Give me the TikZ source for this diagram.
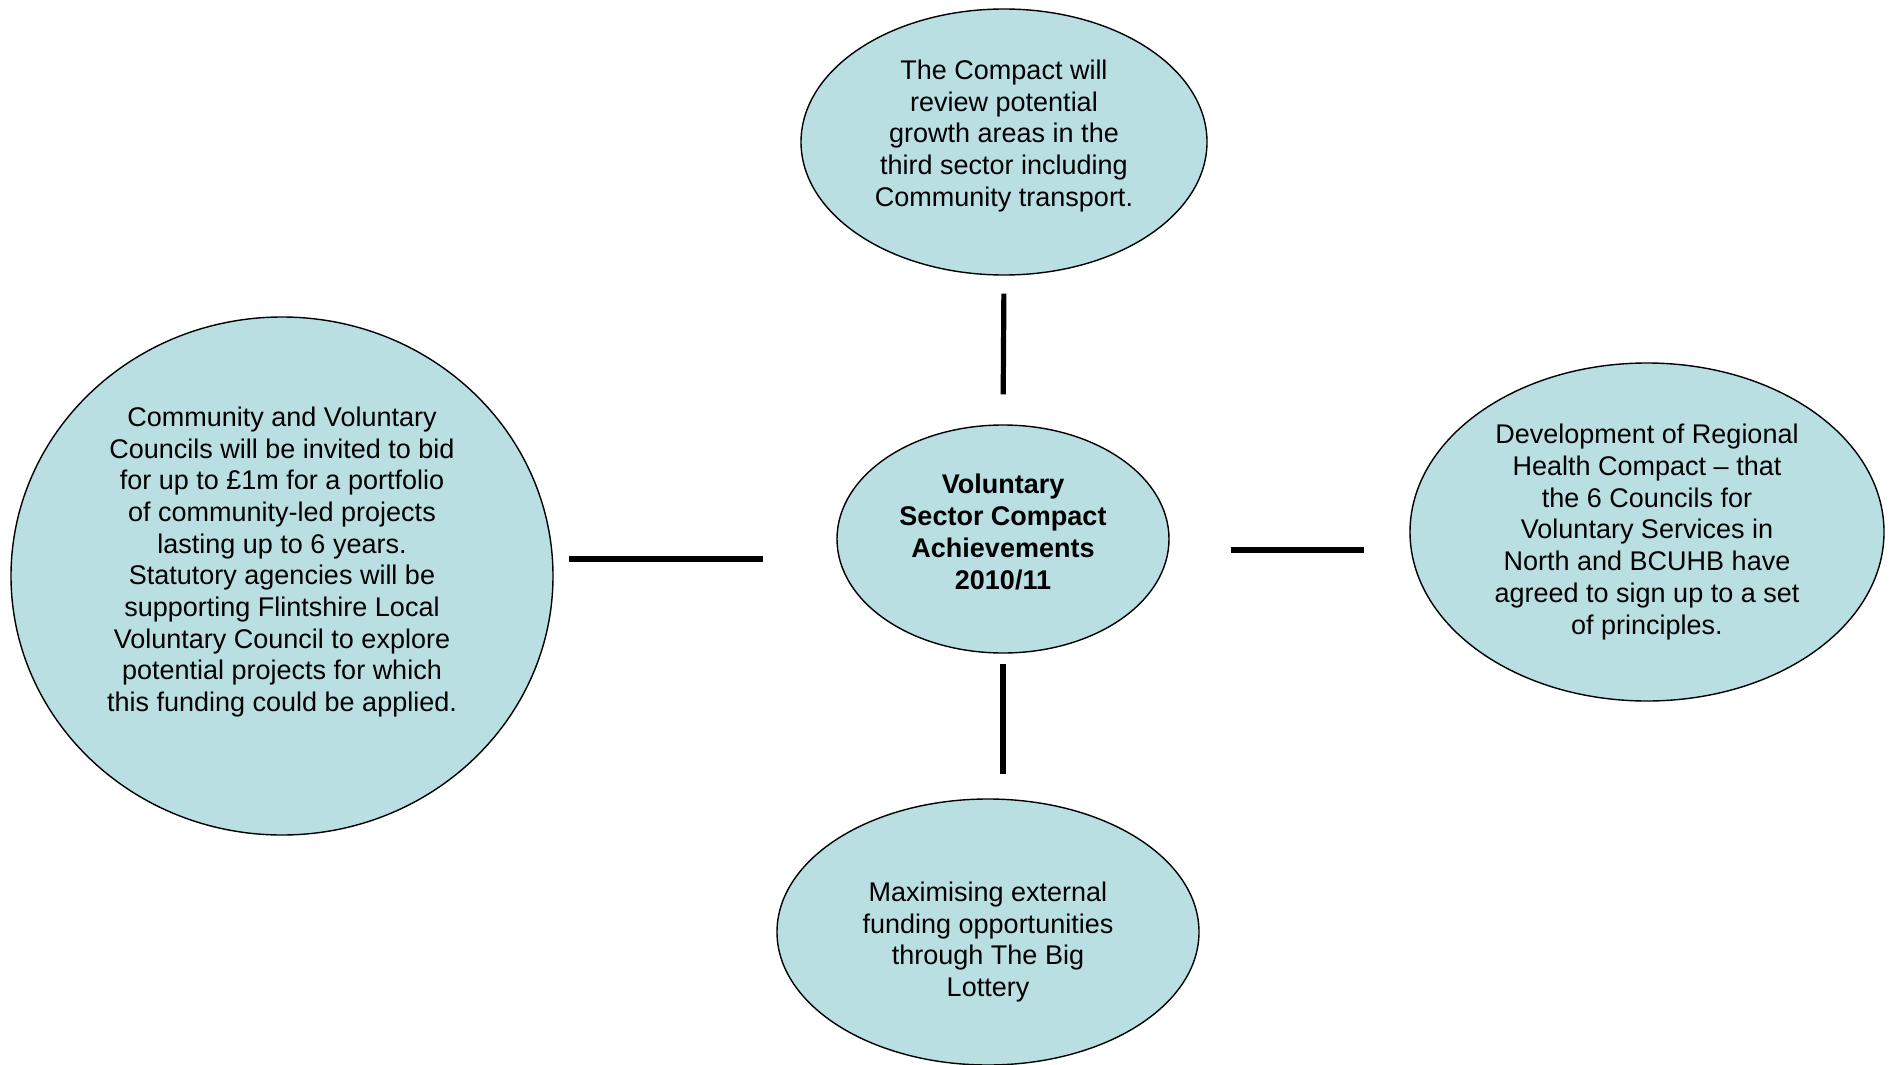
\documentclass[tikz,border=0pt]{standalone}
\usepackage{fontspec}
\setmainfont{Liberation Sans}
\usetikzlibrary{shapes.geometric}
\definecolor{bubblefill}{RGB}{185,223,227}
\begin{document}
\begin{tikzpicture}[x=0.5pt,y=-0.5pt,
  bubble/.style={ellipse,draw=black,line width=0.7pt,fill=bubblefill,inner sep=0pt},
  txt/.style={align=center,inner sep=0pt,font=\fontsize{13.5pt}{15.85pt}\selectfont},
  link/.style={draw=black,line width=2.6pt}]
\useasboundingbox (0,0) rectangle (1890,1065);

% ellipses
\node[bubble,minimum width=203pt,minimum height=133pt] (top) at (1004,142) {};
\node[bubble,minimum width=166pt,minimum height=114pt] (center) at (1003,539) {};
\node[bubble,minimum width=271pt,minimum height=259pt] (left) at (282,576) {};
\node[bubble,minimum width=237pt,minimum height=169pt] (right) at (1647,532) {};
\node[bubble,minimum width=211pt,minimum height=133pt] (bottom) at (988,932) {};

% texts
\node[txt] (toptxt) at (1004,136) {The Compact will\\review potential\\growth areas in the\\third sector including\\Community transport.};
\node[txt,font=\fontsize{13.5pt}{15.85pt}\selectfont\bfseries] (centertxt) at (1003,532) {Voluntary\\Sector Compact\\Achievements\\2010/11};
\node[txt] (lefttxt) at (282,562) {Community and Voluntary\\Councils will be invited to bid\\for up to £1m for a portfolio\\of community-led projects\\lasting up to 6 years.\\Statutory agencies will be\\supporting Flintshire Local\\Voluntary Council to explore\\potential projects for which\\this funding could be applied.};
\node[txt] (righttxt) at (1647,532) {Development of Regional\\Health Compact -- that\\the 6 Councils for\\Voluntary Services in\\North and BCUHB have\\agreed to sign up to a set\\of principles.};
\node[txt] (bottomtxt) at (988,942) {Maximising external\\funding opportunities\\through The Big\\Lottery};

% connectors
\draw[link,shorten <=9pt,shorten >=15pt] (top.south) -- (center.north);
\draw[link,shorten <=5pt,shorten >=12pt] (center.south) -- (center.south |- bottom.north);
\draw[link] ([shift={(15,-17)}]left.east) -- ([shift={(-73,20)}]center.west);
\draw[link] ([shift={(61,11)}]center.east) -- ([shift={(-45,18)}]right.west);
\end{tikzpicture}
\end{document}
